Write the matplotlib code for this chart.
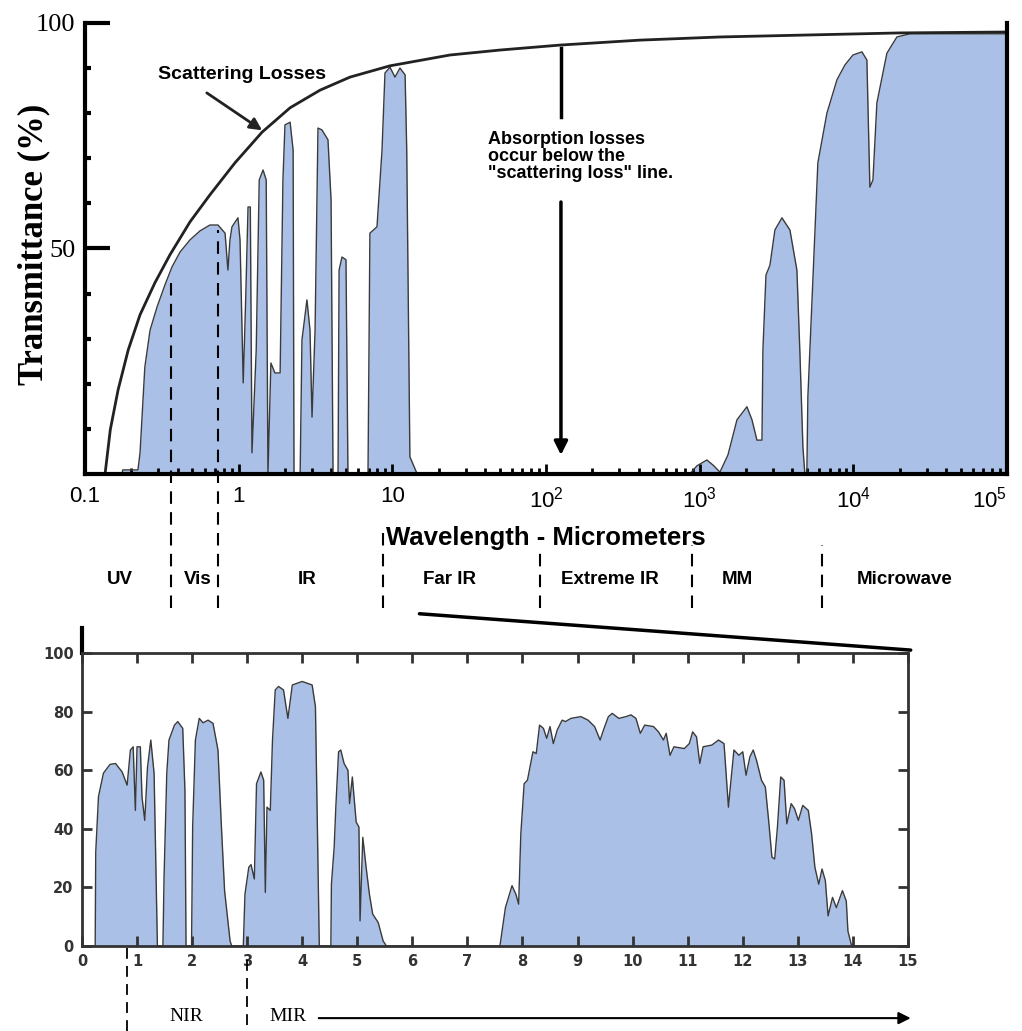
import matplotlib
matplotlib.use("Agg")
import matplotlib.pyplot as plt
from matplotlib.patches import ConnectionPatch

# fonts
narrow = ['Liberation Sans Narrow', 'Liberation Sans', 'DejaVu Sans']
sans = ['Liberation Sans', 'DejaVu Sans']
serif = ['Liberation Serif', 'DejaVu Serif']

# ---- top panel: atmospheric transmittance vs wavelength (um), log scale
top_wl = [0.1, 0.174, 0.176, 0.221, 0.228, 0.245, 0.265, 0.294, 0.331, 0.368,
          0.415, 0.482, 0.56, 0.65, 0.733, 0.815, 0.851, 0.877, 0.904, 0.989,
          1.02, 1.07, 1.11, 1.15, 1.19, 1.22, 1.30, 1.36, 1.44, 1.51,
          1.55, 1.62, 1.72, 1.86, 1.94, 2.00, 2.16, 2.26, 2.29, 2.51,
          2.58, 2.78, 2.91, 3.00, 3.14, 3.28, 3.48, 3.81, 3.99, 4.11,
          4.43, 4.50, 4.70, 4.99, 5.14, 6.94, 7.14, 7.94, 8.56, 8.95,
          9.64, 10.4, 11.2, 12.1, 12.4, 13.0, 14.5, 863, 959, 1114,
          1236, 1353, 1526, 1747, 2028, 2188, 2357, 2541, 2577, 2698,
          2864, 3085, 3427, 3863, 4289, 4487, 4692, 4831, 4977, 5055,
          5448, 5871, 6724, 7814, 8810, 9930, 11360, 12240, 12800, 13400,
          14220, 16520, 19190, 23330, 1e5]
top_T = [0, 0, 0.9, 0.9, 4.7, 23.7, 31.9, 37.0, 41.9, 45.9,
         49.2, 51.9, 53.9, 55.2, 55.2, 53.4, 45.2, 51.9, 54.8, 56.8,
         51.9, 20.2, 38.6, 59.2, 59.2, 4.7, 27.5, 65.2, 67.4, 65.2,
         0, 24.6, 22.4, 22.4, 65.2, 77.4, 78.0, 71.8, 0, 0,
         29.7, 38.6, 31.9, 12.6, 31.9, 76.7, 76.3, 74.1, 60.8, 0,
         0, 45.2, 48.1, 47.5, 0, 0, 53.4, 54.8, 71.8, 88.9,
         90.2, 88.0, 90.0, 88.5, 71.8, 3.8, 0, 0, 1.8, 3.1,
         1.8, 0.4, 4.2, 12.0, 14.9, 12.0, 7.5, 7.5, 27.5, 44.1,
         46.3, 54.1, 56.8, 54.1, 45.2, 26.8, 6.0, 0, 0, 17.1,
         43.0, 69.0, 80.0, 87.4, 90.7, 92.9, 93.6, 91.8, 63.6, 65.2,
         82.3, 93.3, 96.9, 97.6, 97.6]

# scattering loss envelope
scat_wl = [0.135, 0.146, 0.164, 0.191, 0.228, 0.285, 0.357, 0.482, 0.65, 0.946,
           1.42, 2.16, 3.38, 5.30, 9.64, 23.7, 50.1, 123, 408, 1353,
           4487, 20090, 1e5]
scat_T = [0, 9.8, 18.6, 27.5, 35.3, 42.4, 48.6, 55.9, 61.9, 69.0,
          75.8, 81.2, 85.1, 88.0, 90.5, 92.9, 94.0, 95.1, 96.2, 96.9,
          97.3, 97.8, 98.0]

top_xticks = [0.1, 1, 10, 100, 1e3, 1e4, 1e5]
top_xlabels = ['0.1', '1', '10', r'$\mathregular{10^2}$', r'$\mathregular{10^3}$',
               r'$\mathregular{10^4}$', r'$\mathregular{10^5}$']

# spectral regions
bound_wl = [0.363, 0.733, 8.7, 91, 890, 6240]
bound_top = [43.7, 54.1, -12.0, -16.4, -15.7, -15.7]
region_names = ['UV', 'Vis', 'IR', 'Far IR', 'Extreme IR', 'MM', 'Microwave']
region_wl = [0.169, 0.543, 2.78, 23.7, 261, 1746, 21630]

# ---- bottom panel: 0-15 um, linear scale
bot_wl = [0, 0.24, 0.25, 0.30, 0.39, 0.51, 0.61, 0.73, 0.82, 0.88, 0.93, 0.97, 1.00, 1.06,
          1.09, 1.14, 1.19, 1.25, 1.31, 1.37,
          1.47, 1.49, 1.54, 1.58, 1.68, 1.74, 1.83, 1.87, 1.89,
          1.99, 2.01, 2.06, 2.13, 2.20, 2.29, 2.38, 2.47, 2.53, 2.59, 2.69, 2.72,
          2.93, 2.96, 3.03, 3.07, 3.13, 3.17, 3.25, 3.30, 3.33, 3.36, 3.42, 3.46,
          3.51, 3.57, 3.66, 3.74, 3.82, 4.00, 4.18, 4.24, 4.28, 4.31,
          4.52, 4.53, 4.58, 4.61, 4.66, 4.70, 4.76, 4.83, 4.86, 4.91, 4.98, 5.03,
          5.05, 5.10, 5.16, 5.22, 5.28, 5.38, 5.47, 5.53,
          7.59, 7.69, 7.81, 7.88, 7.93, 7.97, 8.03, 8.09, 8.19, 8.25,
          8.31, 8.38, 8.44, 8.50, 8.56, 8.63, 8.72, 8.78, 8.88, 9.06,
          9.19, 9.31, 9.41, 9.47, 9.56, 9.63, 9.75, 9.88, 9.97, 10.06,
          10.14, 10.22, 10.38, 10.47, 10.56, 10.61, 10.68, 10.75, 10.94, 11.03,
          11.09, 11.16, 11.22, 11.28, 11.44, 11.56, 11.66, 11.69, 11.74, 11.78,
          11.84, 11.93, 12.00, 12.06, 12.13, 12.19, 12.25, 12.34, 12.41, 12.47,
          12.53, 12.58, 12.63, 12.69, 12.75, 12.80, 12.88, 12.94, 13.01, 13.09,
          13.19, 13.25, 13.31, 13.38, 13.44, 13.50, 13.55, 13.63, 13.70, 13.81,
          13.88, 13.91, 13.97, 14.0, 15]
bot_T = [0, 0, 32, 51, 59, 62, 62.3, 59.4, 54.9, 66.9, 68, 46.3, 68, 68,
         50.9, 42.9, 61, 70.3, 58.9, 0,
         0, 22.9, 58.9, 70.3, 75.4, 76.6, 74.3, 53.1, 0,
         0, 40.6, 70.3, 77.7, 76.2, 77.1, 76, 66.9, 41.7, 18.9, 1.7, 0,
         0, 17.7, 26.9, 27.8, 22.9, 55.4, 59.4, 56.6, 18.3, 47.4, 46.3, 70.3,
         87.4, 88.6, 87.4, 77.7, 89.1, 90.3, 89.1, 81.7, 36, 0,
         0, 21.1, 33.7, 47.4, 66.3, 66.9, 62.3, 60, 48.6, 57.7, 42.3, 40.6,
         8.6, 37.1, 26.9, 17.7, 10.9, 8, 1.7, 0,
         0, 13.1, 20.6, 17.7, 14.3, 38.3, 55.4, 56.6, 66.3, 65.7,
         75.4, 74.3, 70.9, 74.9, 69.1, 73.7, 77.1, 76.6, 77.7, 78.3,
         77.1, 74.9, 70.3, 73.7, 78.3, 79.4, 77.7, 78.3, 78.9, 77.7,
         72.6, 75.4, 74.9, 73.1, 70.3, 72.6, 65.1, 68, 67.4, 69.1,
         73.1, 71.4, 62.3, 68, 68.6, 70.3, 69.1, 61.1, 47.4, 55.4,
         66.9, 65.1, 66.3, 58.3, 64.6, 66.9, 63.4, 56.6, 54.3, 42.9,
         30.3, 29.7, 40.6, 57.7, 56.6, 41.7, 48.6, 46.9, 42.9, 48,
         46.3, 38.3, 26.9, 21.1, 26.3, 22.3, 10.3, 16.6, 13.1, 18.9,
         15.4, 5.1, 0.6, 0, 0]

nir_bounds = [0.82, 3.0]
nir_low = [-29, -27]
nir_high = [-0.7, -3]

fill_col = '#aac0e6'
edge_col = '#3a3a3a'

fig = plt.figure(figsize=(10.22, 10.31), dpi=100)
ax1 = fig.add_axes([0.0832, 0.5403, 0.9022, 0.4374])
ax2 = fig.add_axes([0.0802, 0.0824, 0.8082, 0.2842])

#%% top panel
ax1.set_xscale('log')
ax1.set_xlim(0.1, 1e5)
ax1.set_ylim(0, 100)
ax1.fill_between(top_wl, top_T, 0, color=fill_col, lw=0)
ax1.plot(top_wl, top_T, color=edge_col, lw=1.0)
ax1.plot(scat_wl, scat_T, color='#222222', lw=2.0)

ax1.spines['top'].set_visible(False)
for s in ['left', 'bottom', 'right']:
    ax1.spines[s].set_linewidth(3)
    ax1.spines[s].set_color('black')

ax1.set_yticks([50, 100])
ax1.set_yticks([10, 20, 30, 40, 60, 70, 80, 90], minor=True)
ax1.set_yticklabels(['50', '100'], fontfamily=serif, fontsize=19)
ax1.tick_params(axis='y', which='major', direction='in', length=18, width=3, pad=7, right=False)
ax1.tick_params(axis='y', which='minor', direction='in', length=4, width=3, right=False)

ax1.set_xticks(top_xticks)
ax1.set_xticklabels(top_xlabels, fontfamily=narrow, fontsize=16)
ax1.get_xticklabels()[-1].set_horizontalalignment('right')
ax1.tick_params(axis='x', which='major', direction='in', length=7, width=2, pad=9, top=False)
ax1.tick_params(axis='x', which='minor', direction='in', length=4, width=2, top=False)

ax1.set_ylabel('Transmittance (%)', fontfamily=serif, fontweight='bold', fontsize=25)
ax1.yaxis.set_label_coords(-0.038, 0.51)
ax1.set_xlabel('Wavelength - Micrometers', fontfamily=sans, fontweight='bold', fontsize=18.5, labelpad=10)

ax1.text(1.05, 88.5, 'Scattering Losses', ha='center', va='center',
         fontfamily=sans, fontweight='bold', fontsize=14)
ax1.annotate('', xy=(1.42, 76.2), xytext=(0.62, 84.5),
             arrowprops=dict(arrowstyle='-|>', color='#222222', lw=2, mutation_scale=18,
                             shrinkA=0, shrinkB=0))

ax1.text(42, 70.5, 'Absorption losses\noccur below the\n"scattering loss" line.',
         ha='left', va='center', fontfamily=sans, fontweight='bold', fontsize=13,
         linespacing=1.0)
ax1.plot([125, 125], [94.5, 79.2], color='black', lw=2.5)
ax1.annotate('', xy=(125, 4.2), xytext=(125, 60.3),
             arrowprops=dict(arrowstyle='-|>', color='black', lw=2.5, mutation_scale=20,
                             shrinkA=0, shrinkB=0))

ax1.vlines(bound_wl, -29.7, bound_top, colors='black', linestyles=(0, (6, 4)), lw=1.5, clip_on=False)
for name, x in zip(region_names, region_wl):
    ax1.text(x, -23.5, name, ha='center', va='center', fontfamily=sans,
             fontweight='bold', fontsize=13.5)

#%% bottom panel
ax2.set_xlim(0, 15)
ax2.set_ylim(0, 100)
ax2.fill_between(bot_wl, bot_T, 0, color=fill_col, lw=0)
ax2.plot(bot_wl, bot_T, color=edge_col, lw=1.0)
for s in ax2.spines.values():
    s.set_linewidth(2)
    s.set_color('#333333')
ax2.set_xticks(range(16))
ax2.set_yticks(range(0, 101, 20))
ax2.tick_params(direction='in', length=7, width=2, top=True, right=True,
                labelsize=10.5, labelcolor='#333333', color='#333333', pad=6)
for lab in ax2.get_xticklabels() + ax2.get_yticklabels():
    lab.set_fontweight('bold')

ax2.vlines(nir_bounds, nir_low, nir_high, colors='black', linestyles=(0, (6, 4)), lw=1.3, clip_on=False)
ax2.text(1.9, -24.2, 'NIR', ha='center', va='center', fontfamily=serif, fontsize=14)
ax2.text(3.74, -24.2, 'MIR', ha='center', va='center', fontfamily=serif, fontsize=14)
ax2.annotate('', xy=(15.05, -24.6), xytext=(4.3, -24.6), annotation_clip=False,
             arrowprops=dict(arrowstyle='-|>', color='black', lw=1.5, mutation_scale=18,
                             shrinkA=0, shrinkB=0))

# zoom link between the panels
ax2.plot([0, 0], [100, 108.5], color='black', lw=3, clip_on=False)
con = ConnectionPatch(xyA=(15, -31), coordsA=ax1.transData,
                      xyB=(15.05, 101), coordsB=ax2.transData,
                      color='black', lw=2.5)
fig.add_artist(con)

fig.savefig('out.png', dpi=100)
